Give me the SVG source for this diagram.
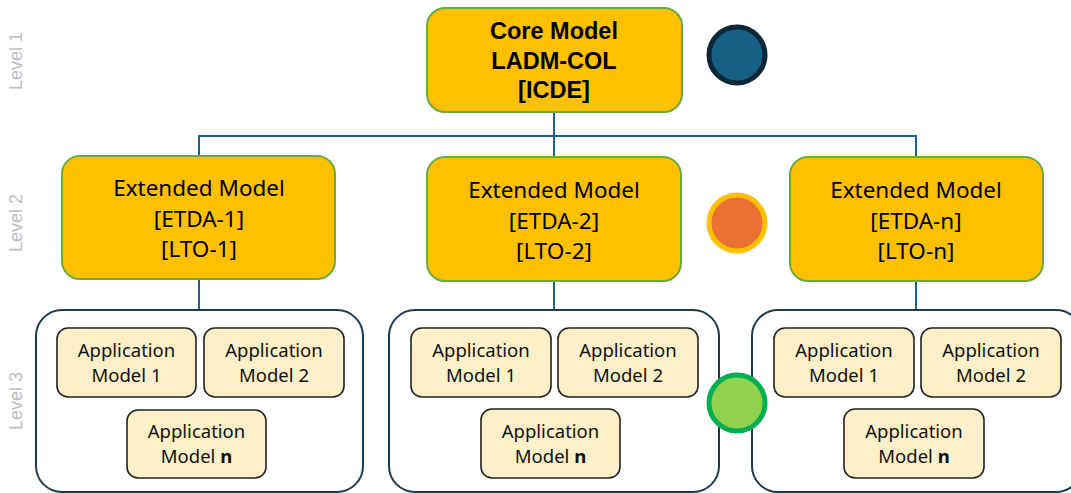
<svg xmlns="http://www.w3.org/2000/svg" width="1071" height="493" viewBox="0 0 1071 493">
<style>
.lvl{font-family:"Liberation Sans",Arial,sans-serif;font-size:18px;fill:#bdbdbd;text-anchor:middle}
.yb{fill:#ffc000;stroke:#6aab3c;stroke-width:2}
.core{font-family:"Liberation Sans",Arial,sans-serif;font-size:23.5px;font-weight:bold;fill:#000;text-anchor:middle}
.ext{font-family:"Noto Sans","Liberation Sans",sans-serif;font-size:22.5px;fill:#000;text-anchor:middle}
.cont{fill:#fff;stroke:#1d3b4f;stroke-width:2}
.app{fill:#fdf0c9;stroke:#222;stroke-width:1.6}
.at{font-family:"Noto Sans","Liberation Sans",sans-serif;font-size:18.5px;fill:#111;text-anchor:middle}
.conn{fill:none;stroke:#1f6289;stroke-width:2}
</style>
<rect width="1071" height="493" fill="#fff"/>
<text class="lvl" transform="translate(22,61) rotate(-90)">Level 1</text>
<text class="lvl" transform="translate(22,223) rotate(-90)">Level 2</text>
<text class="lvl" transform="translate(22,401) rotate(-90)">Level 3</text>
<g id="connectors">
<path class="conn" d="M554,112 V136 M199,156 V136 H916 V156 M554,136 V157 M199,279 V310 M554,281 V310 M916,281 V310"/>
</g>
<g id="core">
<rect class="yb" x="427" y="8" width="255" height="104" rx="18"/>
<text class="core" x="554" y="39">Core Model</text>
<text class="core" x="554" y="69">LADM-COL</text>
<text class="core" x="554" y="98">[ICDE]</text>
</g>
<g id="ext1">
<rect class="yb" x="62" y="156" width="273" height="123" rx="18"/>
<text class="ext" x="199" y="196">Extended Model</text>
<text class="ext" x="199" y="227">[ETDA-1]</text>
<text class="ext" x="199" y="257">[LTO-1]</text>
</g>
<g id="ext2">
<rect class="yb" x="427" y="157" width="254" height="124" rx="18"/>
<text class="ext" x="554" y="198">Extended Model</text>
<text class="ext" x="554" y="229">[ETDA-2]</text>
<text class="ext" x="554" y="259">[LTO-2]</text>
</g>
<g id="extn">
<rect class="yb" x="790" y="157" width="253" height="124" rx="18"/>
<text class="ext" x="916" y="198">Extended Model</text>
<text class="ext" x="916" y="229">[ETDA-n]</text>
<text class="ext" x="916" y="259">[LTO-n]</text>
</g>
<g id="level3-1">
<rect class="cont" x="36" y="310" width="327" height="182" rx="26"/>
<rect class="app" x="57" y="328" width="139" height="69" rx="11"/>
<text class="at" x="126.5" y="357">Application</text>
<text class="at" x="126.5" y="382">Model 1</text>
<rect class="app" x="204" y="328" width="140" height="69" rx="11"/>
<text class="at" x="274" y="357">Application</text>
<text class="at" x="274" y="382">Model 2</text>
<rect class="app" x="127" y="410" width="139" height="68" rx="11"/>
<text class="at" x="196.5" y="438">Application</text>
<text class="at" x="196.5" y="463">Model <tspan font-weight="bold">n</tspan></text>
</g>
<g id="level3-2">
<rect class="cont" x="389" y="310" width="330" height="182" rx="26"/>
<rect class="app" x="411" y="328" width="140" height="69" rx="11"/>
<text class="at" x="481" y="357">Application</text>
<text class="at" x="481" y="382">Model 1</text>
<rect class="app" x="558" y="328" width="140" height="69" rx="11"/>
<text class="at" x="628" y="357">Application</text>
<text class="at" x="628" y="382">Model 2</text>
<rect class="app" x="481" y="409" width="139" height="69" rx="11"/>
<text class="at" x="550.5" y="438">Application</text>
<text class="at" x="550.5" y="463">Model <tspan font-weight="bold">n</tspan></text>
</g>
<g id="level3-n">
<rect class="cont" x="752" y="310" width="330" height="182" rx="26"/>
<rect class="app" x="774" y="328" width="140" height="69" rx="11"/>
<text class="at" x="844" y="357">Application</text>
<text class="at" x="844" y="382">Model 1</text>
<rect class="app" x="921" y="328" width="140" height="69" rx="11"/>
<text class="at" x="991" y="357">Application</text>
<text class="at" x="991" y="382">Model 2</text>
<rect class="app" x="844" y="409" width="140" height="69" rx="11"/>
<text class="at" x="914" y="438">Application</text>
<text class="at" x="914" y="463">Model <tspan font-weight="bold">n</tspan></text>
</g>
<g id="dot-level1"><circle cx="737" cy="55" r="28" fill="#175f84" stroke="#0b2738" stroke-width="5"/></g>
<g id="dot-level2"><circle cx="737" cy="223" r="28" fill="#e97132" stroke="#ffc000" stroke-width="5"/></g>
<g id="dot-level3"><circle cx="737" cy="403" r="28" fill="#92d050" stroke="#00b050" stroke-width="5"/></g>
</svg>
